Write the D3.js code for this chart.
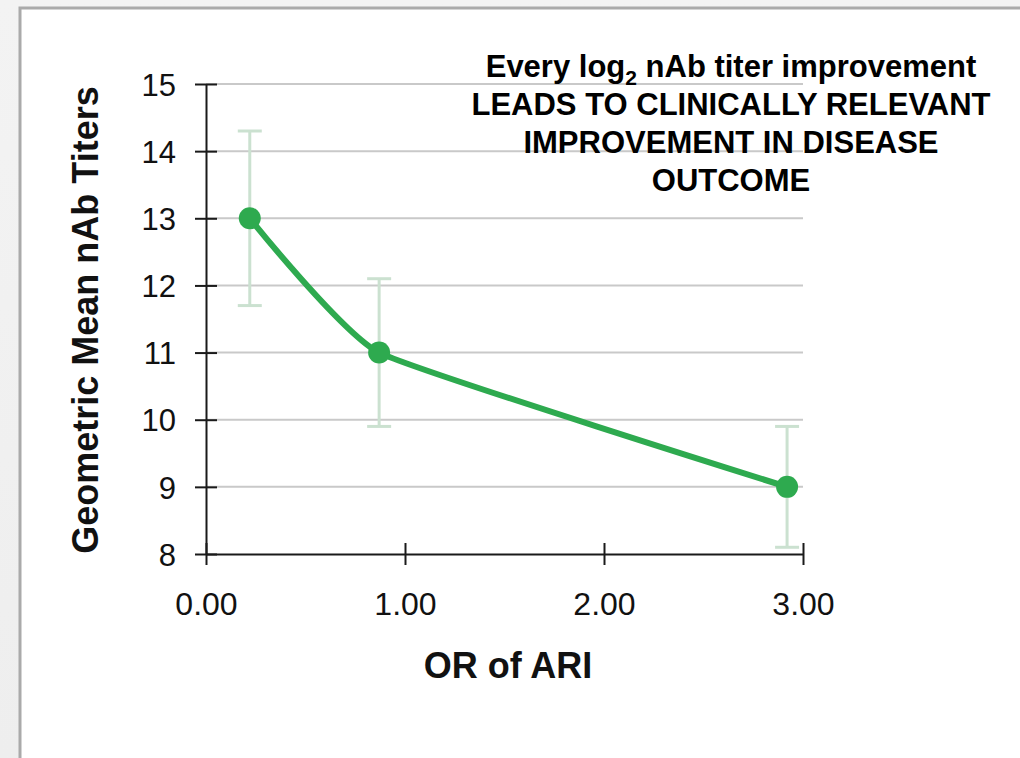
<!DOCTYPE html>
<html>
<head>
<meta charset="utf-8">
<script src="https://cdn.jsdelivr.net/npm/d3@7"></script>
<style>
  html, body { margin: 0; padding: 0; background: #f1f1f1; }
  #chart { position: absolute; left: 0; top: 0; }
</style>
</head>
<body>
<div id="chart"></div>
<script>
// data
var orValues = [0.22, 0.87, 2.92];
var gmtValues = [13, 11, 9];
var errLow = [11.7, 9.9, 8.1];
var errHigh = [14.3, 12.1, 9.9];
var xTicks = [0, 1, 2, 3];
var yTicks = [8, 9, 10, 11, 12, 13, 14, 15];
var titleLines = ['LEADS TO CLINICALLY RELEVANT', 'IMPROVEMENT IN DISEASE', 'OUTCOME'];

var width = 1020, height = 758;
var green = '#2eaa4f', errColor = '#cbe1d0', gridColor = '#c9c9c9';
var font = 'Liberation Sans, Arial, Helvetica, sans-serif';

var svg = d3.select('#chart').append('svg')
  .attr('width', width)
  .attr('height', height);

// frame
var bg = svg.append('defs').append('linearGradient')
  .attr('id', 'outer').attr('x1', 0).attr('x2', 0).attr('y1', 0).attr('y2', 1);
bg.append('stop').attr('offset', 0).attr('stop-color', '#f3f3f3');
bg.append('stop').attr('offset', 1).attr('stop-color', '#eeeeee');
svg.append('rect').attr('width', width).attr('height', height).attr('fill', 'url(#outer)');
svg.append('rect')
  .attr('x', 20).attr('y', 8)
  .attr('width', width).attr('height', height)
  .attr('fill', '#fff')
  .attr('stroke', '#aaaaaa')
  .attr('stroke-width', 3);

var x = d3.scaleLinear().domain([0, 3]).range([206, 803]);
var y = d3.scaleLinear().domain([8, 15]).range([554, 84]);

// gridlines
svg.append('g').selectAll('line')
  .data(yTicks.filter(function(d){ return d > 8; }))
  .enter().append('line')
  .attr('x1', x(0)).attr('x2', x(3))
  .attr('y1', function(d){ return y(d); })
  .attr('y2', function(d){ return y(d); })
  .attr('stroke', gridColor)
  .attr('stroke-width', 2);

// error bars
var err = svg.append('g').selectAll('g')
  .data(orValues)
  .enter().append('g')
  .attr('stroke', errColor)
  .attr('stroke-width', 3);
err.append('line')
  .attr('x1', function(d){ return x(d); })
  .attr('x2', function(d){ return x(d); })
  .attr('y1', function(d, i){ return y(errHigh[i]); })
  .attr('y2', function(d, i){ return y(errLow[i]); });
err.append('line')
  .attr('x1', function(d){ return x(d) - 12; })
  .attr('x2', function(d){ return x(d) + 12; })
  .attr('y1', function(d, i){ return y(errHigh[i]); })
  .attr('y2', function(d, i){ return y(errHigh[i]); });
err.append('line')
  .attr('x1', function(d){ return x(d) - 12; })
  .attr('x2', function(d){ return x(d) + 12; })
  .attr('y1', function(d, i){ return y(errLow[i]); })
  .attr('y2', function(d, i){ return y(errLow[i]); });

// axes
var yAxis = d3.axisLeft(y).tickValues(yTicks).tickSizeOuter(0).tickSizeInner(11)
  .tickFormat(d3.format('d'));
var yG = svg.append('g').attr('transform', 'translate(' + x(0) + ',0)').call(yAxis);
yG.selectAll('line').attr('x1', -11).attr('x2', 11);
yG.selectAll('text').attr('x', -30).attr('dy', '0.36em')
  .style('font-family', font).style('font-size', '31px').attr('fill', '#111');

var xAxis = d3.axisBottom(x).tickValues(xTicks).tickSizeOuter(0).tickSizeInner(11)
  .tickFormat(d3.format('.2f'));
var xG = svg.append('g').attr('transform', 'translate(0,' + y(8) + ')').call(xAxis);
xG.selectAll('line').attr('y1', -11).attr('y2', 11);
xG.selectAll('text').attr('y', 61).attr('dy', 0)
  .style('font-family', font).style('font-size', '32px').attr('fill', '#111');

svg.selectAll('.domain, .tick line').attr('stroke', '#1a1a1a').attr('stroke-width', 2);

// line + markers
var line = d3.line()
  .x(function(d){ return x(d); })
  .y(function(d, i){ return y(gmtValues[i]); })
  .curve(d3.curveCardinal.tension(0.6));
svg.append('path')
  .datum(orValues)
  .attr('d', line)
  .attr('fill', 'none')
  .attr('stroke', green)
  .attr('stroke-width', 6)
  .attr('stroke-linejoin', 'round');
svg.append('g').selectAll('circle')
  .data(orValues)
  .enter().append('circle')
  .attr('cx', function(d){ return x(d); })
  .attr('cy', function(d, i){ return y(gmtValues[i]); })
  .attr('r', 11)
  .attr('fill', green);

// axis titles
svg.append('text')
  .attr('transform', 'translate(98,320) rotate(-90)')
  .attr('text-anchor', 'middle')
  .style('font-family', font).style('font-weight', 'bold').style('font-size', '36px')
  .attr('fill', '#111')
  .text('Geometric Mean nAb Titers');
svg.append('text')
  .attr('x', 508).attr('y', 678)
  .attr('text-anchor', 'middle')
  .style('font-family', font).style('font-weight', 'bold').style('font-size', '36px')
  .attr('fill', '#111')
  .text('OR of ARI');

// annotation
var note = svg.append('text')
  .attr('text-anchor', 'middle')
  .style('font-family', font).style('font-weight', 'bold').style('font-size', '31px')
  .attr('fill', '#000');
var first = note.append('tspan').attr('x', 731).attr('y', 77);
first.append('tspan').text('Every log');
first.append('tspan').attr('dy', 8).style('font-size', '21px').text('2');
first.append('tspan').attr('dy', -8).text(' nAb titer improvement');
note.selectAll('tspan.l')
  .data(titleLines)
  .enter().append('tspan')
  .attr('class', 'l')
  .attr('x', 731)
  .attr('y', function(d, i){ return 115 + i * 38; })
  .text(function(d){ return d; });
</script>
</body>
</html>
